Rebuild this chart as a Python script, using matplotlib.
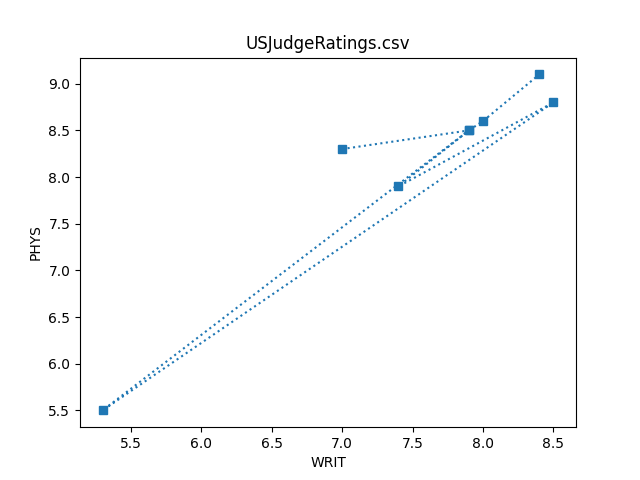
import matplotlib
matplotlib.use("Agg")
import matplotlib.pyplot as plt

writ = [7.0, 7.9, 5.3, 8.5, 7.4, 7.9, 8.0, 8.4]
phys = [8.3, 8.5, 5.5, 8.8, 7.9, 8.5, 8.6, 9.1]

plt.figure(figsize=(6.4, 4.8), dpi=100)
plt.plot(writ, phys, marker='s', linestyle=':')
plt.title('USJudgeRatings.csv')
plt.xlabel('WRIT')
plt.ylabel('PHYS')
plt.savefig('out.png')
